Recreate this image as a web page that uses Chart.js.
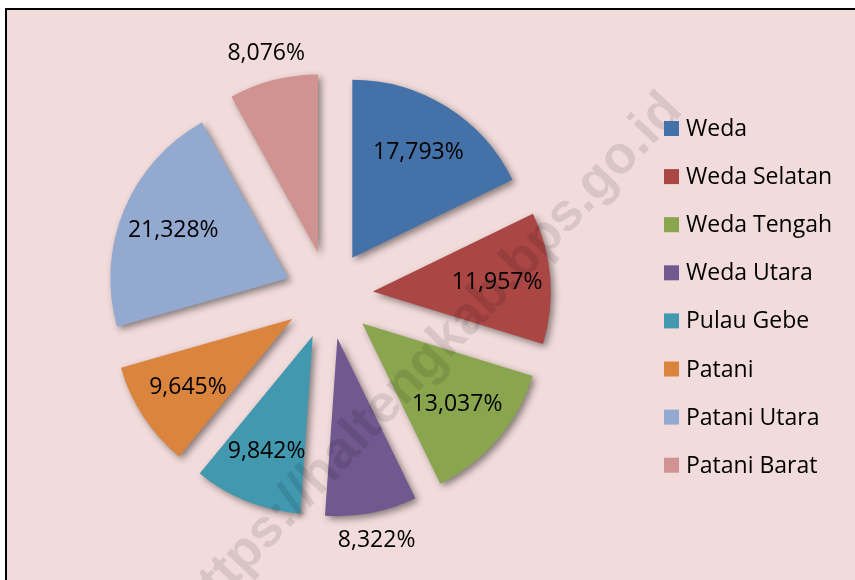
<!DOCTYPE html>
<html lang="id">
<head>
<meta charset="UTF-8">
<title>Persentase per Kecamatan</title>
<script src="https://cdn.jsdelivr.net/npm/chart.js"></script>
<style>
  html, body { margin: 0; padding: 0; background: #fff; }
  #pieChart { display: block; }
</style>
</head>
<body>
<canvas id="pieChart" width="855" height="580"></canvas>
<script>
const kecamatan = ['Weda', 'Weda Selatan', 'Weda Tengah', 'Weda Utara', 'Pulau Gebe', 'Patani', 'Patani Utara', 'Patani Barat'];
const persen = [17.793, 11.957, 13.037, 8.322, 9.842, 9.645, 21.328, 8.076];
const warna = ['#4472A8', '#AA4644', '#89A54E', '#71588F', '#4198AF', '#DB843D', '#93A9CF', '#D19392'];

const explode = 44;      // jarak potongan keluar dari pusat
const fontTeks = '23px "Open Sans"';

function formatPersen(v) {
    return v.toFixed(3).replace('.', ',') + '%';
}

const lukisan = {
    id: 'lukisan',
    beforeDraw(chart) {
        const ctx = chart.ctx;
        ctx.save();
        ctx.fillStyle = '#ffffff';
        ctx.fillRect(0, 0, chart.width, chart.height);
        ctx.fillStyle = '#000000';
        ctx.fillRect(5, 8, chart.width, chart.height);
        ctx.fillStyle = '#F2DCDB';
        ctx.fillRect(7, 10, chart.width, chart.height);
        ctx.restore();
    },
    afterDatasetsUpdate(chart) {
        // geser tiap potongan keluar sepanjang sudut tengahnya
        chart.getDatasetMeta(0).data.forEach(arc => {
            const mid = (arc.startAngle + arc.endAngle) / 2;
            arc.x += Math.cos(mid) * explode;
            arc.y += Math.sin(mid) * explode;
        });
    },
    beforeDatasetsDraw(chart) {
        const ctx = chart.ctx;
        ctx.save();
        ctx.shadowColor = 'rgba(0, 0, 0, 0.45)';
        ctx.shadowBlur = 7;
        ctx.shadowOffsetX = 3;
        ctx.shadowOffsetY = 3;
    },
    afterDatasetsDraw(chart) {
        const ctx = chart.ctx;
        ctx.restore();

        // watermark
        ctx.save();
        ctx.translate(684, 112);
        ctx.rotate(-46.5 * Math.PI / 180);
        ctx.font = 'bold 53px "Liberation Sans"';
        ctx.textAlign = 'right';
        ctx.textBaseline = 'alphabetic';
        ctx.fillStyle = 'rgba(0, 0, 0, 0.1)';
        ctx.fillText('https://haltengkab.bps.go.id', 0, 0);
        ctx.restore();

        // label persen
        ctx.save();
        ctx.font = fontTeks;
        ctx.fillStyle = '#000';
        ctx.textAlign = 'center';
        ctx.textBaseline = 'middle';
        chart.getDatasetMeta(0).data.forEach((arc, i) => {
            const mid = (arc.startAngle + arc.endAngle) / 2;
            const r = arc.outerRadius;
            const d = persen[i] < 9 ? r + 28 : r * 0.7;
            ctx.fillText(formatPersen(persen[i]), arc.x + Math.cos(mid) * d, arc.y + Math.sin(mid) * d);
        });
        ctx.restore();

        // legenda
        ctx.save();
        ctx.font = fontTeks;
        ctx.textAlign = 'left';
        ctx.textBaseline = 'middle';
        kecamatan.forEach((nama, i) => {
            const y = 128.5 + i * 48.1;
            ctx.fillStyle = warna[i];
            ctx.fillRect(664, y - 7.5, 15, 15);
            ctx.fillStyle = '#000';
            ctx.fillText(nama, 686, y + 1);
        });
        ctx.restore();
    }
};

new Chart(document.getElementById('pieChart'), {
    type: 'pie',
    data: {
        labels: kecamatan,
        datasets: [{
            data: persen,
            backgroundColor: warna,
            borderWidth: 0
        }]
    },
    options: {
        responsive: false,
        animation: false,
        radius: 178,
        layout: {
            padding: { left: 0, right: 197, top: 10, bottom: 0 }
        },
        plugins: {
            legend: { display: false },
            tooltip: { enabled: false }
        }
    },
    plugins: [lukisan]
});
</script>
</body>
</html>
